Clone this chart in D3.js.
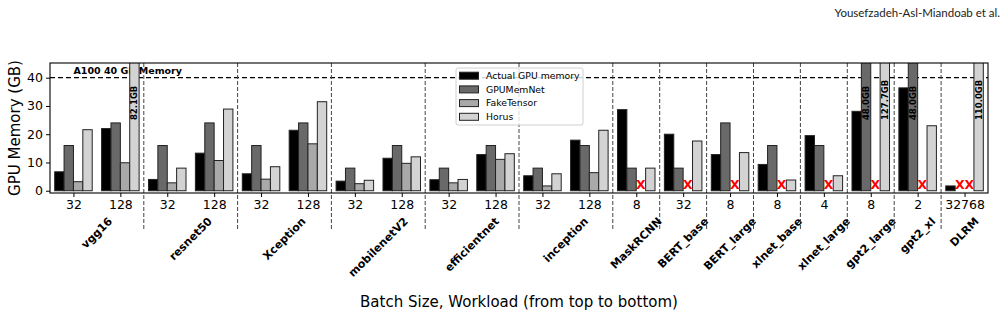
<!DOCTYPE html>
<html>
<head>
<meta charset="utf-8">
<script src="https://cdn.jsdelivr.net/npm/d3@7"></script>
<style>
  body { margin: 0; background: #fff; }
  svg { display: block; font-family: "DejaVu Sans", sans-serif; }
</style>
</head>
<body>
<div id="chart"></div>
<script>
// one entry per batch-size cluster
var batchLabels = ["32","128","32","128","32","128","32","128","32","128","32","128","8","32","8","8","4","8","2","32768"];
var workloads = [
  {name: "vgg16", from: 0, to: 1},
  {name: "resnet50", from: 2, to: 3},
  {name: "Xception", from: 4, to: 5},
  {name: "mobilenetV2", from: 6, to: 7},
  {name: "efficientnet", from: 8, to: 9},
  {name: "inception", from: 10, to: 11},
  {name: "MaskRCNN", from: 12, to: 12},
  {name: "BERT_base", from: 13, to: 13},
  {name: "BERT_large", from: 14, to: 14},
  {name: "xlnet_base", from: 15, to: 15},
  {name: "xlnet_large", from: 16, to: 16},
  {name: "gpt2_large", from: 17, to: 17},
  {name: "gpt2_xl", from: 18, to: 18},
  {name: "DLRM", from: 19, to: 19}
];
// null = not supported (red X)
var actualMem  = [6.7, 22.0, 4.0, 13.3, 6.0, 21.4, 3.4, 11.5, 3.9, 12.8, 5.3, 17.9, 28.7, 20.0, 12.8, 9.3, 19.5, 28.1, 36.4, 1.7];
var gpuMemNet  = [16, 24, 16, 24, 16, 24, 8, 16, 8, 16, 8, 16, 8, 8, 24, 16, 16, 48.0, 48.0, null];
var fakeTensor = [3.2, 9.9, 2.8, 10.7, 4.1, 16.6, 2.5, 9.7, 2.8, 11.1, 1.7, 6.4, null, null, null, null, null, null, null, null];
var horus      = [21.6, 82.1, 8.0, 28.9, 8.5, 31.5, 3.7, 12.0, 4.0, 13.1, 6.0, 21.4, 8.0, 17.6, 13.5, 3.8, 5.3, 127.7, 23.0, 110.0];
var yTicks = [0, 10, 20, 30, 40];
var gpuLimit = 40;

var series = [
  {name: "Actual GPU memory", values: actualMem, color: "#000000"},
  {name: "GPUMemNet", values: gpuMemNet, color: "#696969"},
  {name: "FakeTensor", values: fakeTensor, color: "#a9a9a9"},
  {name: "Horus", values: horus, color: "#d3d3d3"}
];

var W = 1008, H = 319;
var pL = 50, pR = 988, pT = 63, pB = 193;
var barW = 0.2;

var svg = d3.select("#chart").append("svg")
  .attr("width", W).attr("height", H);

var x = d3.scaleLinear().domain([-0.5, 19.5]).range([pL, pR]);
var y = d3.scaleLinear().domain([-0.8, 45.2]).range([pB, pT]);

svg.append("defs").append("clipPath").attr("id", "plotclip")
  .append("rect").attr("x", pL).attr("y", pT).attr("width", pR - pL).attr("height", pB - pT);

// 40 GB line
svg.append("line")
  .attr("x1", pL).attr("x2", pR)
  .attr("y1", y(gpuLimit)).attr("y2", y(gpuLimit))
  .attr("stroke", "#000").attr("stroke-width", 1.3)
  .attr("stroke-dasharray", "5,3");

svg.append("text")
  .attr("x", x(0)).attr("y", y(41.4))
  .attr("font-size", 9.5).attr("font-weight", "bold")
  .text("A100 40 GB Memory");

// workload separators, running below the axis
var seps = workloads.slice(1).map(function(w) { return w.from - 0.5; });
svg.selectAll("line.sep").data(seps).enter().append("line")
  .attr("class", "sep")
  .attr("x1", function(d) { return x(d); }).attr("x2", function(d) { return x(d); })
  .attr("y1", pT).attr("y2", 230)
  .attr("stroke", "#444").attr("stroke-width", 1)
  .attr("stroke-dasharray", "4,2");

// bars
var bars = svg.append("g").attr("clip-path", "url(#plotclip)");
series.forEach(function(s, si) {
  var off = (si - 1.5) * barW;
  bars.selectAll(null).data(s.values.map(function(v, i) { return {v: v, i: i}; })
      .filter(function(d) { return d.v !== null; }))
    .enter().append("rect")
    .attr("x", function(d) { return x(d.i + off - barW / 2); })
    .attr("width", x(barW) - x(0))
    .attr("y", function(d) { return y(d.v); })
    .attr("height", function(d) { return y(0) - y(d.v); })
    .attr("fill", s.color)
    .attr("stroke", "#222").attr("stroke-width", 1);

  // values over the top get a rotated label
  s.values.forEach(function(v, i) {
    var cx = x(i + off);
    if (v !== null && v > 45) {
      svg.append("text")
        .attr("transform", "translate(" + (cx + 3) + "," + y(25) + ") rotate(-90)")
        .attr("font-size", 8.5).attr("font-weight", "bold")
        .text(v.toFixed(1) + "GB");
    }
    if (v === null) {
      svg.append("text")
        .attr("x", cx).attr("y", y(2.1) + 4.5)
        .attr("text-anchor", "middle")
        .attr("font-size", 12.5).attr("font-weight", "bold")
        .attr("fill", "#ff0000")
        .text("X");
    }
  });
});

// axes
var xAxis = d3.axisBottom(x)
  .tickValues(d3.range(batchLabels.length))
  .tickFormat(function(d) { return batchLabels[d]; })
  .tickSize(4).tickPadding(3);
var gx = svg.append("g").attr("transform", "translate(0," + pB + ")").call(xAxis);
gx.select(".domain").remove();
gx.selectAll("text").attr("font-size", 12.5).attr("font-family", "DejaVu Sans").attr("fill", "#000");

var yAxis = d3.axisLeft(y).tickValues(yTicks).tickSize(4).tickPadding(3);
var gy = svg.append("g").attr("transform", "translate(" + pL + ",0)").call(yAxis);
gy.select(".domain").remove();
gy.selectAll("text").attr("font-size", 12.5).attr("font-family", "DejaVu Sans").attr("fill", "#000");

// frame
svg.append("rect")
  .attr("x", pL).attr("y", pT).attr("width", pR - pL).attr("height", pB - pT)
  .attr("fill", "none").attr("stroke", "#000").attr("stroke-width", 1.1);

// workload names, rotated 45 degrees, centred under their group
workloads.forEach(function(w) {
  var cx = x((w.from + w.to) / 2);
  var t = svg.append("text")
    .attr("font-size", 11).attr("font-weight", "bold")
    .attr("text-anchor", "middle").attr("dominant-baseline", "central")
    .text(w.name);
  var L = t.node().getComputedTextLength();
  var half = (L + 10) * Math.SQRT1_2 / 2;
  var cy = 216 + half;
  t.attr("transform", "translate(" + cx + "," + cy + ") rotate(-45)");
});

// axis titles
svg.append("text")
  .attr("transform", "translate(20," + ((pT + pB) / 2) + ") rotate(-90)")
  .attr("text-anchor", "middle").attr("font-size", 15)
  .text("GPU Memory (GB)");

svg.append("text")
  .attr("x", (pL + pR) / 2).attr("y", 307)
  .attr("text-anchor", "middle").attr("font-size", 15)
  .text("Batch Size, Workload (from top to bottom)");

svg.append("text")
  .attr("x", 1000).attr("y", 17)
  .attr("text-anchor", "end").attr("font-size", 11.5)
  .attr("font-family", "Lato").attr("fill", "#222")
  .text("Yousefzadeh-Asl-Miandoab et al.");

// legend
var lg = svg.append("g").attr("transform", "translate(456,68)");
lg.append("rect").attr("width", 127).attr("height", 57).attr("rx", 2)
  .attr("fill", "#fff").attr("fill-opacity", 0.8)
  .attr("stroke", "#d0d0d0").attr("stroke-width", 1);
series.forEach(function(s, i) {
  var row = lg.append("g").attr("transform", "translate(0," + (7.7 + i * 13.7) + ")");
  row.append("rect").attr("x", 3.5).attr("y", -3.5).attr("width", 19).attr("height", 7)
    .attr("fill", s.color).attr("stroke", "#222").attr("stroke-width", 1);
  row.append("text").attr("x", 30).attr("y", 0).attr("dy", "0.35em")
    .attr("font-size", 9.3).text(s.name);
});
</script>
</body>
</html>
